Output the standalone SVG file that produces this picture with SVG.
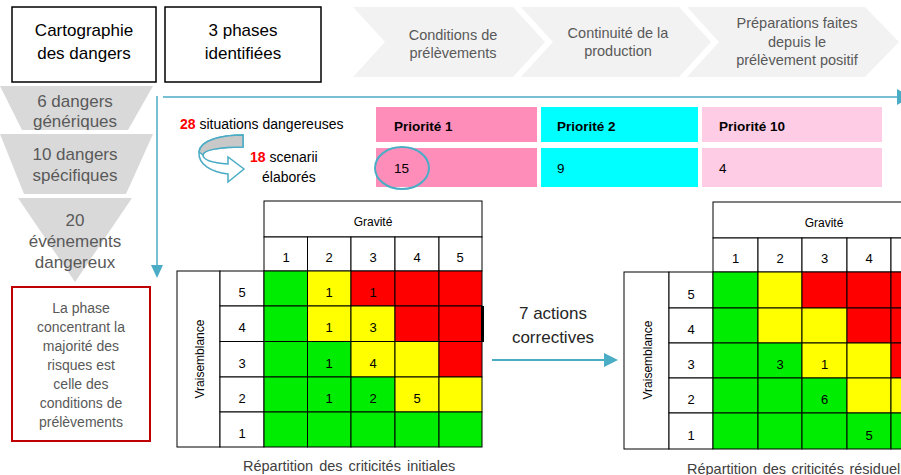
<svg xmlns="http://www.w3.org/2000/svg" width="901" height="475" viewBox="0 0 901 475">
<style>
text{font-family:"Liberation Sans",Arial,sans-serif}
.box{fill:#fff;stroke:#000;stroke-width:1.5}
.t17{font-size:17px;fill:#000;text-anchor:middle}
.chev{fill:#f2f2f2}
.ct{font-size:14.5px;fill:#595959;text-anchor:middle}
.fun{fill:#d9d9d9}
.ft{font-size:17px;fill:#595959;text-anchor:middle}
.rt{font-size:14px;fill:#595959;text-anchor:middle}
.pt{font-size:13.5px;font-weight:bold;fill:#000}
.pv{font-size:13.5px;fill:#000}
.c{stroke:#000;stroke-width:1}
.w{fill:#fff}
.g{fill:#00ec00}
.y{fill:#ffff00}
.r{fill:#ff0000}
.n{font-size:13px;fill:#000;text-anchor:middle}
.hd{font-size:12px;fill:#000;text-anchor:middle}
.cap{font-size:14.5px;fill:#404040}
.blue{stroke:#4bacc6;stroke-width:1.5;fill:none}
.bluef{fill:#4bacc6}
</style>

<g id="cartographie">
<rect class="box" x="12" y="7" width="144" height="75"/>
<text class="t17" x="84" y="36">Cartographie</text>
<text class="t17" x="84" y="59">des dangers</text>
</g>
<g id="phases">
<rect class="box" x="165" y="7" width="156" height="75"/>
<text class="t17" x="243" y="36">3 phases</text>
<text class="t17" x="243" y="59">identifiées</text>
</g>

<g id="chevron1">
<polygon class="chev" points="353,7 513,7 545,42 513,77 353,77 385,42"/>
<text class="ct" x="453" y="40">Conditions  de</text>
<text class="ct" x="453" y="58">prélèvements</text>
</g>
<g id="chevron2">
<polygon class="chev" points="521,7 679,7 711,42 679,77 521,77 553,42"/>
<text class="ct" x="618" y="38">Continuité de la</text>
<text class="ct" x="618" y="56">production</text>
</g>
<g id="chevron3">
<polygon class="chev" points="687,7 865,7 899,42 865,77 687,77 719,42"/>
<text class="ct" x="797" y="28">Préparations faites</text>
<text class="ct" x="797" y="47">depuis le</text>
<text class="ct" x="797" y="65">prélèvement positif</text>
</g>

<g id="funnel1">
<polygon class="fun" points="0,86 153,86 128,130 22,130"/>
<text class="ft" x="75" y="107">6 dangers</text>
<text class="ft" x="75" y="127">génériques</text>
</g>
<g id="funnel2">
<polygon class="fun" points="0,134 153,134 126,194 24,194"/>
<text class="ft" x="75" y="160">10 dangers</text>
<text class="ft" x="75" y="181">spécifiques</text>
</g>
<g id="funnel3">
<polygon class="fun" points="18,198 132,198 75,282"/>
<text class="ft" x="75" y="226">20</text>
<text class="ft" x="75" y="247">événements</text>
<text class="ft" x="75" y="268">dangereux</text>
</g>

<g id="conclusion">
<rect x="12" y="287" width="138" height="154" fill="#fff" stroke="#c00000" stroke-width="2"/>
<text class="rt" x="81" y="313">La phase</text>
<text class="rt" x="81" y="332">concentrant  la</text>
<text class="rt" x="81" y="351">majorité des</text>
<text class="rt" x="81" y="370">risques est</text>
<text class="rt" x="81" y="389">celle des</text>
<text class="rt" x="81" y="408">conditions de</text>
<text class="rt" x="81" y="427">prélèvements</text>
</g>

<g id="situations">
<text x="180" y="129" style="font-size:14px;fill:#000"><tspan fill="#ff0000" font-weight="bold">28</tspan> situations dangereuses</text>
<path d="M243,135 C222,135 200,140 199,152 C198,165 212,172 228,174 L228,182 L244,169 L228,157 L228,164 C214,163 203,160 203,155 C203,150 220,147 243,147 Z" fill="#fff" stroke="#4bacc6" stroke-width="1.5"/>
<path d="M243,135 C222,135 200,140 199,152 L203,155 C203,150 220,147 243,147 Z" fill="#c8c8c8" stroke="#4bacc6" stroke-width="1.5"/>
<text x="250" y="162" style="font-size:14px;fill:#000"><tspan fill="#ff0000" font-weight="bold">18</tspan> scenarii</text>
<text x="262" y="182" style="font-size:14px;fill:#000">élaborés</text>
</g>

<g id="priorites">
<rect x="376" y="107" width="161" height="35" fill="#ff8dba"/>
<rect x="541" y="107" width="157" height="35" fill="#00ffff"/>
<rect x="702" y="107" width="180" height="35" fill="#ffcce5"/>
<rect x="376" y="148" width="161" height="39" fill="#ff8dba"/>
<rect x="541" y="148" width="157" height="39" fill="#00ffff"/>
<rect x="702" y="148" width="180" height="39" fill="#ffcce5"/>
<text class="pt" x="394" y="131">Priorité 1</text>
<text class="pt" x="557" y="131">Priorité 2</text>
<text class="pt" x="719" y="131">Priorité 10</text>
<text class="pv" x="394" y="173">15</text>
<text class="pv" x="557" y="173">9</text>
<text class="pv" x="719" y="173">4</text>
<ellipse cx="402" cy="168" rx="27" ry="21" fill="none" stroke="#4bacc6" stroke-width="2"/>
</g>

<g id="matrice-initiale">
<rect class="c w" x="264" y="201" width="218" height="36"/>
<text class="hd" x="373" y="226">Gravité</text>
<rect class="c w" x="264" y="237" width="43.5" height="34"/>
<rect class="c w" x="307.5" y="237" width="43.5" height="34"/>
<rect class="c w" x="351" y="237" width="44" height="34"/>
<rect class="c w" x="395" y="237" width="44" height="34"/>
<rect class="c w" x="439" y="237" width="43" height="34"/>
<text class="n" x="286" y="262">1</text><text class="n" x="329" y="262">2</text><text class="n" x="373" y="262">3</text><text class="n" x="417" y="262">4</text><text class="n" x="460" y="262">5</text>
<rect class="c w" x="177" y="271" width="43" height="176"/>
<text class="hd" transform="translate(204,359) rotate(-90)">Vraisemblance</text>
<rect class="c w" x="220" y="271" width="44" height="35"/>
<rect class="c w" x="220" y="306" width="44" height="35.5"/>
<rect class="c w" x="220" y="341.5" width="44" height="35.5"/>
<rect class="c w" x="220" y="377" width="44" height="35"/>
<rect class="c w" x="220" y="412" width="44" height="35"/>
<text class="n" x="242" y="297">5</text><text class="n" x="242" y="332">4</text><text class="n" x="242" y="368">3</text><text class="n" x="242" y="403">2</text><text class="n" x="242" y="438">1</text>
<rect class="c g" x="264" y="271" width="43.5" height="35"/>
<rect class="c y" x="307.5" y="271" width="43.5" height="35"/>
<rect class="c r" x="351" y="271" width="44" height="35"/>
<rect class="c r" x="395" y="271" width="44" height="35"/>
<rect class="c r" x="439" y="271" width="43" height="35"/>
<rect class="c g" x="264" y="306" width="43.5" height="35.5"/>
<rect class="c y" x="307.5" y="306" width="43.5" height="35.5"/>
<rect class="c y" x="351" y="306" width="44" height="35.5"/>
<rect class="c r" x="395" y="306" width="44" height="35.5"/>
<rect class="c r" x="439" y="306" width="43" height="35.5"/>
<rect class="c g" x="264" y="341.5" width="43.5" height="35.5"/>
<rect class="c g" x="307.5" y="341.5" width="43.5" height="35.5"/>
<rect class="c y" x="351" y="341.5" width="44" height="35.5"/>
<rect class="c y" x="395" y="341.5" width="44" height="35.5"/>
<rect class="c r" x="439" y="341.5" width="43" height="35.5"/>
<rect class="c g" x="264" y="377" width="43.5" height="35"/>
<rect class="c g" x="307.5" y="377" width="43.5" height="35"/>
<rect class="c g" x="351" y="377" width="44" height="35"/>
<rect class="c y" x="395" y="377" width="44" height="35"/>
<rect class="c y" x="439" y="377" width="43" height="35"/>
<rect class="c g" x="264" y="412" width="43.5" height="35"/>
<rect class="c g" x="307.5" y="412" width="43.5" height="35"/>
<rect class="c g" x="351" y="412" width="44" height="35"/>
<rect class="c g" x="395" y="412" width="44" height="35"/>
<rect class="c g" x="439" y="412" width="43" height="35"/>
<line x1="482.5" y1="306" x2="482.5" y2="342" stroke="#000" stroke-width="3"/>
<text class="n" x="329" y="297">1</text><text class="n" x="373" y="297">1</text>
<text class="n" x="329" y="332">1</text><text class="n" x="373" y="332">3</text>
<text class="n" x="329" y="368">1</text><text class="n" x="373" y="368">4</text>
<text class="n" x="329" y="403">1</text><text class="n" x="373" y="403">2</text><text class="n" x="417" y="403">5</text>
<text class="cap" x="243" y="471" word-spacing="2">Répartition des criticités initiales</text>
</g>

<g id="actions">
<text class="t17" x="553" y="319" style="fill:#262626">7 actions</text>
<text class="t17" x="553" y="343" style="fill:#262626">correctives</text>
</g>

<g id="matrice-residuelle">
<rect class="c w" x="713" y="202" width="222" height="36"/>
<text class="hd" x="824" y="227">Gravité</text>
<rect class="c w" x="713" y="238" width="45" height="34"/>
<rect class="c w" x="758" y="238" width="44" height="34"/>
<rect class="c w" x="802" y="238" width="45" height="34"/>
<rect class="c w" x="847" y="238" width="44" height="34"/>
<rect class="c w" x="891" y="238" width="44" height="34"/>
<text class="n" x="735.5" y="263">1</text><text class="n" x="780" y="263">2</text><text class="n" x="824.5" y="263">3</text><text class="n" x="869" y="263">4</text>
<rect class="c w" x="624" y="272" width="45" height="177"/>
<text class="hd" transform="translate(652,360) rotate(-90)">Vraisemblance</text>
<rect class="c w" x="669" y="272" width="44" height="36"/>
<rect class="c w" x="669" y="308" width="44" height="35"/>
<rect class="c w" x="669" y="343" width="44" height="35"/>
<rect class="c w" x="669" y="378" width="44" height="35"/>
<rect class="c w" x="669" y="413" width="44" height="36"/>
<text class="n" x="691" y="299">5</text><text class="n" x="691" y="334">4</text><text class="n" x="691" y="369">3</text><text class="n" x="691" y="404">2</text><text class="n" x="691" y="440">1</text>
<rect class="c g" x="713" y="272" width="45" height="36"/>
<rect class="c y" x="758" y="272" width="44" height="36"/>
<rect class="c r" x="802" y="272" width="45" height="36"/>
<rect class="c r" x="847" y="272" width="44" height="36"/>
<rect class="c r" x="891" y="272" width="44" height="36"/>
<rect class="c g" x="713" y="308" width="45" height="35"/>
<rect class="c y" x="758" y="308" width="44" height="35"/>
<rect class="c y" x="802" y="308" width="45" height="35"/>
<rect class="c r" x="847" y="308" width="44" height="35"/>
<rect class="c r" x="891" y="308" width="44" height="35"/>
<rect class="c g" x="713" y="343" width="45" height="35"/>
<rect class="c g" x="758" y="343" width="44" height="35"/>
<rect class="c y" x="802" y="343" width="45" height="35"/>
<rect class="c y" x="847" y="343" width="44" height="35"/>
<rect class="c r" x="891" y="343" width="44" height="35"/>
<rect class="c g" x="713" y="378" width="45" height="35"/>
<rect class="c g" x="758" y="378" width="44" height="35"/>
<rect class="c g" x="802" y="378" width="45" height="35"/>
<rect class="c y" x="847" y="378" width="44" height="35"/>
<rect class="c y" x="891" y="378" width="44" height="35"/>
<rect class="c g" x="713" y="413" width="45" height="36"/>
<rect class="c g" x="758" y="413" width="44" height="36"/>
<rect class="c g" x="802" y="413" width="45" height="36"/>
<rect class="c g" x="847" y="413" width="44" height="36"/>
<rect class="c g" x="891" y="413" width="44" height="36"/>
<text class="n" x="780" y="369">3</text><text class="n" x="824.5" y="369">1</text>
<text class="n" x="824.5" y="404">6</text>
<text class="n" x="869" y="440">5</text>
<text class="cap" x="687" y="474" word-spacing="1.5">Répartition des criticités résiduelles</text>
</g>

<g id="connectors">
<line class="blue" x1="157" y1="96" x2="157" y2="266"/>
<polygon class="bluef" points="151,265 163,265 157,278"/>
<line class="blue" x1="163" y1="97" x2="898" y2="97"/>
<polygon class="bluef" points="897,89 911,97 897,105"/>
<line class="blue" x1="492" y1="360" x2="606" y2="360" style="stroke-width:2"/>
<polygon class="bluef" points="604,353 618,360 604,367"/>
</g>
</svg>
